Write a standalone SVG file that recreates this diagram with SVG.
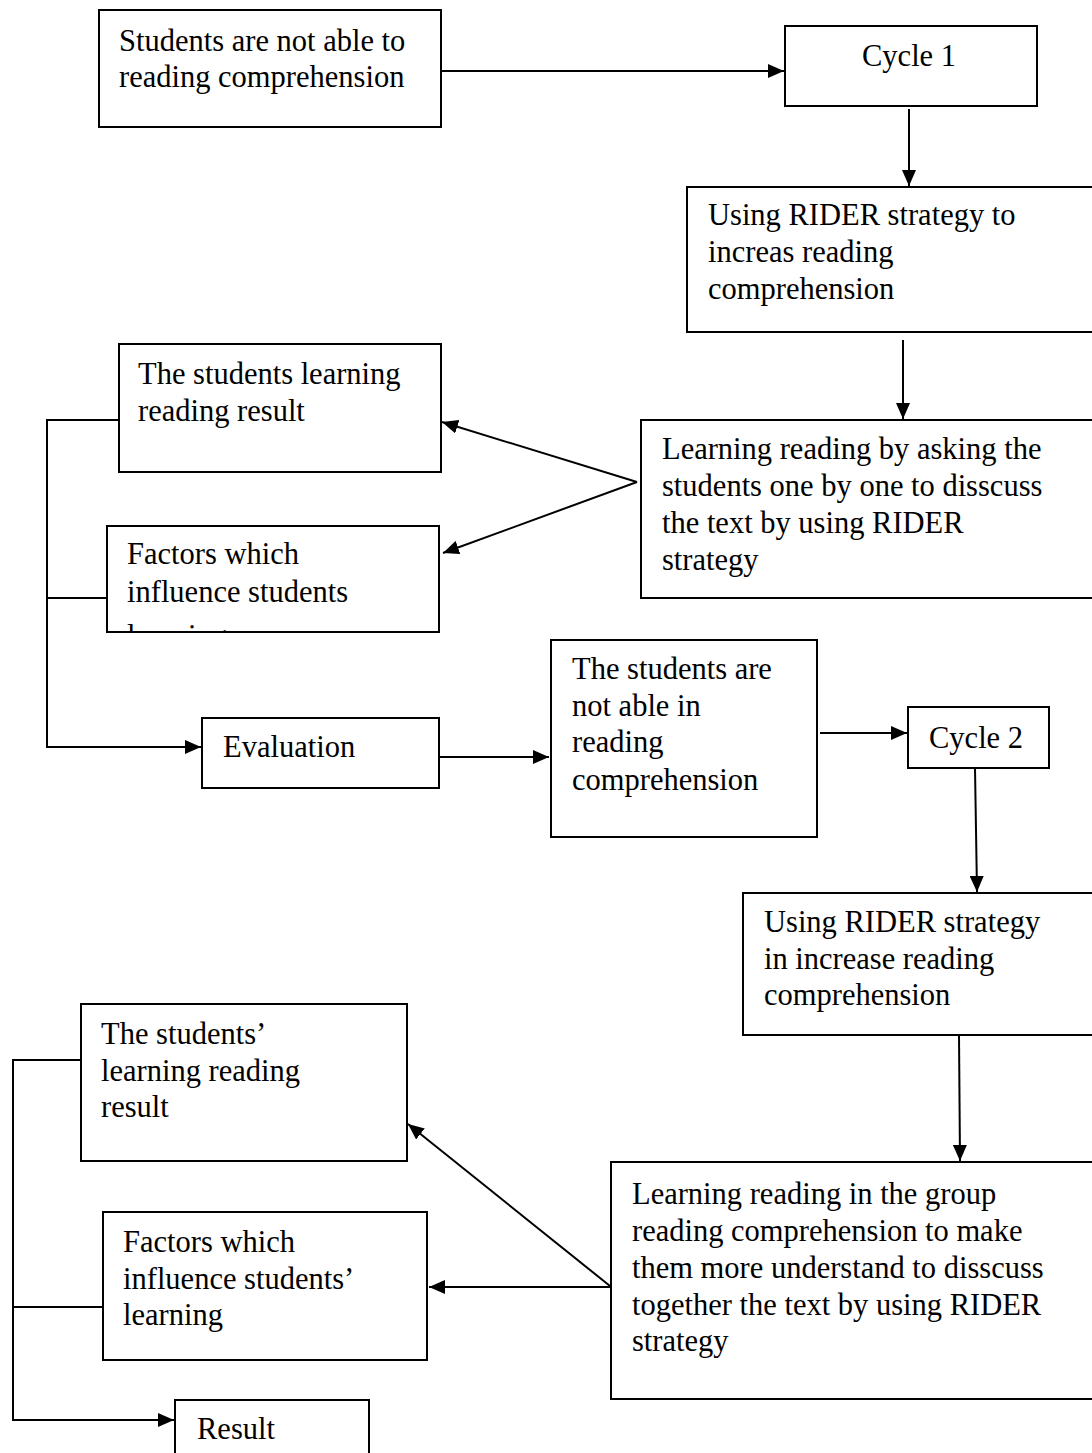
<svg xmlns="http://www.w3.org/2000/svg" width="1092" height="1453" viewBox="0 0 1092 1453">
<style>
.box{fill:#fff;stroke:#000;stroke-width:2}
.t{font-family:"Liberation Serif","Times New Roman",serif;font-size:30.5px;fill:#000}
.c{fill:none;stroke:#000;stroke-width:2}
</style>
<defs>
<marker id="ah" markerUnits="userSpaceOnUse" markerWidth="18" markerHeight="14" refX="16" refY="7" orient="auto">
<path d="M0,0 L16,7 L0,14 Z" fill="#000"/>
</marker>
<clipPath id="clipF1"><rect x="108" y="527" width="330" height="104"/></clipPath>
</defs>
<rect width="1092" height="1453" fill="#fff"/>

<g id="connectors">
<line class="c" x1="441" y1="71" x2="784" y2="71" marker-end="url(#ah)"/>
<line class="c" x1="909" y1="109" x2="909" y2="186" marker-end="url(#ah)"/>
<line class="c" x1="903" y1="340" x2="903" y2="419" marker-end="url(#ah)"/>
<line class="c" x1="637" y1="482" x2="442" y2="422" marker-end="url(#ah)"/>
<line class="c" x1="637" y1="482" x2="443" y2="553" marker-end="url(#ah)"/>
<polyline class="c" points="121,420 47,420 47,747 201,747" marker-end="url(#ah)"/>
<line class="c" x1="47" y1="598" x2="107" y2="598"/>
<line class="c" x1="439" y1="757" x2="549" y2="757" marker-end="url(#ah)"/>
<line class="c" x1="820" y1="733" x2="907" y2="733" marker-end="url(#ah)"/>
<line class="c" x1="975" y1="768" x2="977" y2="892" marker-end="url(#ah)"/>
<line class="c" x1="959" y1="1035" x2="960" y2="1161" marker-end="url(#ah)"/>
<line class="c" x1="610" y1="1286" x2="408" y2="1124" marker-end="url(#ah)"/>
<line class="c" x1="610" y1="1287" x2="429" y2="1287" marker-end="url(#ah)"/>
<polyline class="c" points="81,1060 13,1060 13,1420 174,1420" marker-end="url(#ah)"/>
<line class="c" x1="13" y1="1307" x2="103" y2="1307"/>
</g>

<g id="n1">
<rect class="box" x="99" y="10" width="342" height="117"/>
<text class="t" x="119" y="51">Students are not able to</text>
<text class="t" x="119" y="87">reading comprehension</text>
</g>

<g id="n2">
<rect class="box" x="785" y="26" width="252" height="80"/>
<text class="t" x="862" y="66">Cycle 1</text>
</g>

<g id="n3">
<rect class="box" x="687" y="187" width="410" height="145"/>
<text class="t" x="708" y="225">Using RIDER strategy to</text>
<text class="t" x="708" y="262">increas reading</text>
<text class="t" x="708" y="299">comprehension</text>
</g>

<g id="n4">
<rect class="box" x="641" y="420" width="456" height="178"/>
<text class="t" x="662" y="459">Learning reading by asking the</text>
<text class="t" x="662" y="496">students one by one to disscuss</text>
<text class="t" x="662" y="533">the text by using RIDER</text>
<text class="t" x="662" y="570">strategy</text>
</g>

<g id="n5">
<rect class="box" x="119" y="344" width="322" height="128"/>
<text class="t" x="138" y="384">The students learning</text>
<text class="t" x="138" y="421">reading result</text>
</g>

<g id="n6">
<rect class="box" x="107" y="526" width="332" height="106"/>
<g clip-path="url(#clipF1)">
<text class="t" x="127" y="564">Factors which</text>
<text class="t" x="127" y="602">influence students</text>
<text class="t" x="127" y="646">learning</text>
</g>
</g>

<g id="n7">
<rect class="box" x="202" y="718" width="237" height="70"/>
<text class="t" x="223" y="757">Evaluation</text>
</g>

<g id="n8">
<rect class="box" x="551" y="640" width="266" height="197"/>
<text class="t" x="572" y="679">The students are</text>
<text class="t" x="572" y="716">not able in</text>
<text class="t" x="572" y="752">reading</text>
<text class="t" x="572" y="790">comprehension</text>
</g>

<g id="n9">
<rect class="box" x="908" y="707" width="141" height="61"/>
<text class="t" x="929" y="748">Cycle 2</text>
</g>

<g id="n10">
<rect class="box" x="743" y="893" width="354" height="142"/>
<text class="t" x="764" y="932">Using RIDER strategy</text>
<text class="t" x="764" y="969">in increase reading</text>
<text class="t" x="764" y="1005">comprehension</text>
</g>

<g id="n11">
<rect class="box" x="611" y="1162" width="486" height="237"/>
<text class="t" x="632" y="1204">Learning reading in the group</text>
<text class="t" x="632" y="1241">reading comprehension to make</text>
<text class="t" x="632" y="1278">them more understand to disscuss</text>
<text class="t" x="632" y="1315">together the text by using RIDER</text>
<text class="t" x="632" y="1351">strategy</text>
</g>

<g id="n12">
<rect class="box" x="81" y="1004" width="326" height="157"/>
<text class="t" x="101" y="1044">The students’</text>
<text class="t" x="101" y="1081">learning reading</text>
<text class="t" x="101" y="1117">result</text>
</g>

<g id="n13">
<rect class="box" x="103" y="1212" width="324" height="148"/>
<text class="t" x="123" y="1252">Factors which</text>
<text class="t" x="123" y="1289">influence students’</text>
<text class="t" x="123" y="1325">learning</text>
</g>

<g id="n14">
<rect class="box" x="175" y="1400" width="194" height="70"/>
<text class="t" x="197" y="1439">Result</text>
</g>
</svg>
